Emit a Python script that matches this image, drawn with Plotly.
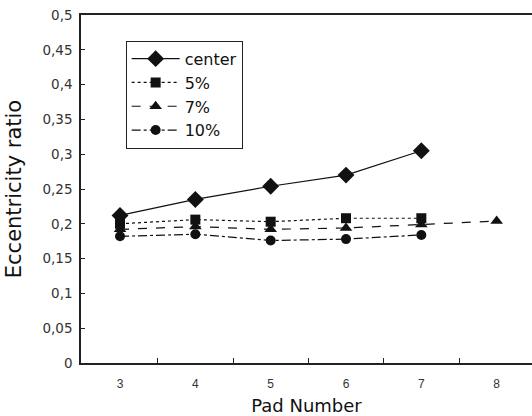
import plotly.graph_objects as go

# Pad numbers and eccentricity ratios per load case
pads = [3, 4, 5, 6, 7]
pads_7 = [3, 4, 5, 6, 7, 8]
center = [0.212, 0.235, 0.254, 0.270, 0.305]
pct5 = [0.200, 0.206, 0.203, 0.208, 0.208]
pct7 = [0.192, 0.196, 0.192, 0.194, 0.199, 0.204]
pct10 = [0.182, 0.185, 0.176, 0.178, 0.184]

y_ticks = [0, 0.05, 0.1, 0.15, 0.2, 0.25, 0.3, 0.35, 0.4, 0.45, 0.5]
y_labels = ["0", "0,05", "0,1", "0,15", "0,2", "0,25", "0,3", "0,35", "0,4", "0,45", "0,5"]
x_ticks = [3, 4, 5, 6, 7, 8]

ink = "#111111"
series = [
    ("center", pads, center, "solid", "diamond", 13),
    ("5%", pads, pct5, "dot", "square", 10),
    ("7%", pads_7, pct7, "dash", "triangle-up", 11),
    ("10%", pads, pct10, "dashdot", "circle", 10),
]

fig = go.Figure()
for name, xs, ys, dash, sym, size in series:
    fig.add_trace(go.Scatter(
        x=xs, y=ys, name=name, mode="lines+markers",
        line=dict(color=ink, width=1.2, dash=dash),
        marker=dict(symbol=sym, size=size, color=ink, line=dict(width=0)),
    ))

wide = "DejaVu Sans, Verdana, sans-serif"
plain = "Liberation Sans, Arial, sans-serif"
fig.update_layout(
    width=532, height=416,
    margin=dict(l=81, r=0, t=15, b=53),
    paper_bgcolor="white", plot_bgcolor="white",
    font=dict(family=wide, color="#222222"),
    showlegend=True,
    legend=dict(
        x=0.099, y=0.926, xanchor="left", yanchor="top",
        bordercolor="#222222", borderwidth=1, bgcolor="white",
        font=dict(family=wide, size=16, color="#111111"),
        itemwidth=48, tracegroupgap=0,
    ),
    xaxis=dict(
        range=[2.482, 8.469],
        tickmode="array", tickvals=x_ticks, ticks="",
        tickfont=dict(family=plain, size=12, color="#333333"),
        ticklabelstandoff=9,
        showgrid=False, zeroline=False,
        showline=True, linecolor="#222222", linewidth=1.5, mirror=True,
        minor=dict(tickvals=[3.5, 4.5, 5.5, 6.5, 7.5], ticks="inside",
                   ticklen=5, tickcolor="#222222", showgrid=False),
        title=dict(text="Pad Number", font=dict(family=wide, size=18, color="#111111"), standoff=9),
    ),
    yaxis=dict(
        range=[0, 0.5],
        tickmode="array", tickvals=y_ticks, ticktext=y_labels,
        ticks="inside", ticklen=4, tickcolor="#222222",
        tickfont=dict(family=wide, size=13.5, color="#333333"),
        ticklabelstandoff=4,
        showgrid=False, zeroline=False,
        showline=True, linecolor="#222222", linewidth=1.5, mirror=False,
        title=dict(text="Eccentricity ratio", font=dict(family=wide, size=21, color="#111111"), standoff=15),
    ),
)

fig.write_html("out.html")
